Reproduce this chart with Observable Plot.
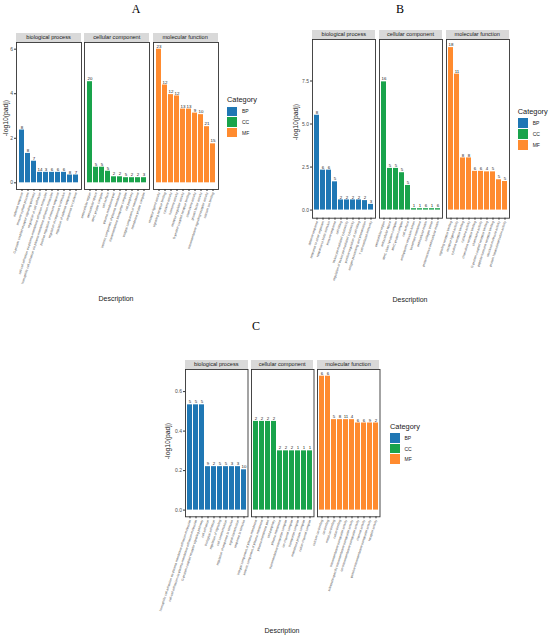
<!DOCTYPE html>
<html>
<head>
<meta charset="utf-8">
<script src="https://cdn.jsdelivr.net/npm/d3@7"></script>
<script src="https://cdn.jsdelivr.net/npm/@observablehq/plot@0.6"></script>
<style>
  body { margin: 0; background: white; }
  #root { position: relative; width: 550px; height: 637px; background: white; overflow: hidden;
          font-family: "Liberation Sans", Arial, sans-serif; }
  .abs { position: absolute; }
  .lbl { position: absolute; white-space: nowrap; line-height: 1; transform: translate(-50%, -50%); }
  .abs svg { overflow: visible; }
</style>
</head>
<body>
<div id="root"></div>
<script>
// ---------------- DATA ----------------
const categories = ["BP", "CC", "MF"];
const facetNames = ["biological process", "cellular component", "molecular function"];

// Panel A
const A_BP_terms = ["defense response", "immune system process",
  "G-protein coupled receptor signaling pathway",
  "regulation of cell adhesion", "cell-cell adhesion via plasma-membrane adhesion molecules",
  "homophilic cell adhesion via plasma membrane adhesion molecules",
  "positive regulation of immune response", "regulation of response to stimulus",
  "regulation of defense response", "response to cytokine"];
const A_BP_values = [2.37, 1.32, 0.97, 0.47, 0.47, 0.47, 0.47, 0.47, 0.35, 0.35];
const A_BP_counts = [8, 8, 7, 14, 3, 6, 6, 6, 8, 7];

const A_CC_terms = ["extracellular region", "extracellular space", "MHC protein complex", "cell surface",
  "plasma membrane part", "intrinsic component of plasma membrane", "transmembrane transporter complex",
  "cell periphery", "integral component of membrane", "membrane protein complex"];
const A_CC_values = [4.54, 0.70, 0.70, 0.52, 0.27, 0.27, 0.23, 0.23, 0.23, 0.23];
const A_CC_counts = [20, 5, 5, 5, 2, 2, 5, 2, 2, 3];

const A_MF_terms = ["receptor ligand activity", "signaling receptor binding", "cytokine activity",
  "hormone activity", "receptor regulator activity", "G-protein coupled receptor binding",
  "chemokine activity", "growth factor activity", "transmembrane signaling receptor activity",
  "calcium ion binding"];
const A_MF_values = [6.0, 4.39, 3.96, 3.90, 3.31, 3.31, 3.13, 3.06, 2.52, 1.75];
const A_MF_counts = [23, 12, 12, 12, 13, 13, 9, 10, 21, 15];

// Panel B
const B_BP_terms = ["defense response", "response to other organism", "response to biotic stimulus",
  "immune response", "cell killing", "leukocyte mediated cytotoxicity",
  "regulation of leukocyte mediated cytotoxicity", "positive regulation of cell killing",
  "antigen processing and presentation", "T cell mediated immunity"];
const B_BP_values = [5.51, 2.32, 2.32, 1.64, 0.59, 0.59, 0.59, 0.59, 0.55, 0.33];
const B_BP_counts = [8, 6, 6, 5, 2, 2, 2, 2, 2, 3];

const B_CC_terms = ["extracellular region", "extracellular space", "MHC class I protein complex",
  "MHC protein complex", "cell surface", "endoplasmic reticulum lumen", "basement membrane",
  "extracellular matrix", "collagen trimer", "proteinaceous extracellular matrix"];
const B_CC_values = [7.45, 2.42, 2.42, 2.17, 1.43, 0.08, 0.08, 0.08, 0.08, 0.08];
const B_CC_counts = [16, 5, 5, 5, 5, 1, 1, 6, 1, 6];

const B_MF_terms = ["signaling receptor binding", "receptor ligand activity", "cytokine receptor binding",
  "cytokine activity", "chemokine receptor binding", "chemokine activity",
  "G-protein coupled receptor binding", "peptide hormone receptor binding",
  "structural molecule activity", "protein heterodimerization activity"];
const B_MF_values = [9.44, 7.90, 3.03, 3.03, 2.25, 2.25, 2.22, 2.22, 1.76, 1.66];
const B_MF_counts = [18, 11, 8, 8, 6, 6, 4, 5, 5, 5];

// Panel C
const C_BP_terms = ["homophilic cell adhesion via plasma membrane adhesion molecules",
  "cell-cell adhesion via plasma-membrane adhesion molecules",
  "G-protein coupled receptor signaling pathway", "cell adhesion", "biological adhesion",
  "regulation of signaling", "cell communication", "regulation of response to stimulus",
  "signal transduction", "response to stimulus"];
const C_BP_values = [0.533, 0.533, 0.533, 0.22, 0.22, 0.22, 0.22, 0.22, 0.22, 0.204];
const C_BP_counts = [5, 5, 5, 9, 2, 5, 5, 3, 3, 10];

const C_CC_terms = ["integral component of plasma membrane", "intrinsic component of plasma membrane",
  "plasma membrane part", "cell periphery", "plasma membrane", "transmembrane transporter complex",
  "ion channel complex", "transporter complex", "membrane protein complex", "cation channel complex"];
const C_CC_values = [0.449, 0.449, 0.449, 0.449, 0.30, 0.30, 0.30, 0.30, 0.30, 0.30];
const C_CC_counts = [2, 2, 2, 2, 2, 2, 2, 1, 1, 1];

const C_MF_terms = ["calcium ion binding", "ion binding", "metal ion binding", "cation binding",
  "transmembrane transporter activity", "substrate-specific transmembrane transporter activity",
  "ion transmembrane transporter activity", "channel activity",
  "passive transmembrane transporter activity", "receptor activity"];
const C_MF_values = [0.678, 0.678, 0.458, 0.458, 0.458, 0.458, 0.441, 0.441, 0.441, 0.441];
const C_MF_counts = [6, 6, 5, 8, 11, 4, 6, 6, 9, 2];

const A_ticks = [0, 2, 4, 6];
const B_ticks = [0, 2.5, 5, 7.5];
const C_ticks = [0, 0.2, 0.4, 0.6];

// ---------------- STYLE / LAYOUT ----------------
const colors = {BP: "#1f77b4", CC: "#19a34b", MF: "#ff8b2f"};

const panels = [
  {letter: "A", letterPos: [136, 9], top: 42, h: 147, lefts: [16, 84.3, 152.6], w: 65,
   ticks: A_ticks, fmt: d3.format("d"),
   series: [[A_BP_terms, A_BP_values, A_BP_counts], [A_CC_terms, A_CC_values, A_CC_counts], [A_MF_terms, A_MF_values, A_MF_counts]],
   ytitle: [6, 118], desc: [116, 298], legend: {x: 227, titleY: 100, boxY: 106.7, step: 10.7, boxH: 9.4, boxW: 10}},
  {letter: "B", letterPos: [400, 9], top: 39, h: 178.7, lefts: [312.3, 379, 445.7], w: 63,
   ticks: B_ticks, fmt: d3.format(".1f"),
   series: [[B_BP_terms, B_BP_values, B_BP_counts], [B_CC_terms, B_CC_values, B_CC_counts], [B_MF_terms, B_MF_values, B_MF_counts]],
   ytitle: [295.5, 122], desc: [410, 299], legend: {x: 517.7, titleY: 111.7, boxY: 118.3, step: 10.8, boxH: 10, boxW: 10}},
  {letter: "C", letterPos: [256, 326], top: 369, h: 147.3, lefts: [185, 250.9, 316.8], w: 62.5,
   ticks: C_ticks, fmt: d3.format(".1f"),
   series: [[C_BP_terms, C_BP_values, C_BP_counts], [C_CC_terms, C_CC_values, C_CC_counts], [C_MF_terms, C_MF_values, C_MF_counts]],
   ytitle: [167.5, 441], desc: [282, 630], legend: {x: 390, titleY: 426.7, boxY: 433.3, step: 10.5, boxH: 9.4, boxW: 9.5}}
];

const root = document.getElementById("root");
const stripH = 9;
const ML = 26, MR = 4, MT = 8, MB = 130;

function addLabel(text, x, y, size, opts = {}) {
  const d = document.createElement("div");
  d.className = "lbl";
  d.textContent = text;
  d.style.left = x + "px";
  d.style.top = y + "px";
  d.style.fontSize = size + "px";
  d.style.color = opts.color || "#1a1a1a";
  if (opts.font) d.style.fontFamily = opts.font;
  if (opts.rotate) d.style.transform = `translate(-50%, -50%) rotate(${opts.rotate}deg)`;
  if (opts.anchorLeft) d.style.transform = "translate(0, -50%)";
  root.appendChild(d);
  return d;
}

function facetPlot(p, k, yMax) {
  const [terms, values, counts] = p.series[k];
  const cat = categories[k];
  const data = terms.map((t, i) => ({term: t, value: values[i], count: counts[i]}));
  const showY = k === 0;
  const marks = [
    Plot.barY(data, {x: "term", y: "value", fill: colors[cat]}),
    Plot.text(data, {x: "term", y: "value", text: d => String(d.count), dy: -2.8,
                     fontSize: 4.4, fill: "#1a1a1a"}),
    Plot.frame({stroke: "#333333", strokeWidth: 0.9}),
    Plot.axisX({tickSize: 2, tickPadding: 1, tickRotate: -72, fontSize: 3.2, fill: "#4d4d4d",
                stroke: "#333333", label: null})
  ];
  if (showY) marks.push(Plot.axisY({ticks: p.ticks, tickFormat: p.fmt, tickSize: 2, tickPadding: 1.5,
                                    fontSize: 5, fill: "#4d4d4d", stroke: "#333333", label: null}));
  const plot = Plot.plot({
    width: p.w + ML + MR,
    height: p.h + MT + MB,
    marginLeft: ML, marginRight: MR, marginTop: MT, marginBottom: MB,
    style: {background: "transparent", overflow: "visible", fontFamily: "Liberation Sans, Arial, sans-serif"},
    x: {type: "band", domain: terms, paddingInner: 0.1, paddingOuter: 0.15, label: null},
    y: {domain: [-0.05 * yMax, 1.05 * yMax], label: null, axis: showY ? undefined : null},
    marks
  });
  const wrap = document.createElement("div");
  wrap.className = "abs";
  wrap.style.left = (p.lefts[k] - ML) + "px";
  wrap.style.top = (p.top - MT) + "px";
  wrap.appendChild(plot);
  root.appendChild(wrap);

  // facet strip
  const strip = document.createElement("div");
  strip.className = "abs";
  Object.assign(strip.style, {
    left: p.lefts[k] + "px", top: (p.top - stripH) + "px", width: p.w + "px", height: stripH + "px",
    background: "#d9d9d9", color: "#1a1a1a", fontSize: "5.6px", lineHeight: stripH + "px",
    textAlign: "center", whiteSpace: "nowrap"
  });
  strip.textContent = facetNames[k];
  root.appendChild(strip);
}

for (const p of panels) {
  const yMax = d3.max(p.series.flatMap(s => s[1]));
  for (let k = 0; k < 3; k++) facetPlot(p, k, yMax);
  addLabel(p.letter, p.letterPos[0], p.letterPos[1], 12, {font: "Liberation Serif, Times New Roman, serif", color: "#000"});
  addLabel("-log10(padj)", p.ytitle[0], p.ytitle[1], 6.8, {rotate: -90});
  addLabel("Description", p.desc[0], p.desc[1], 7);
  // legend
  const L = p.legend;
  addLabel("Category", L.x, L.titleY, 7.4, {anchorLeft: true});
  categories.forEach((c, i) => {
    const b = document.createElement("div");
    b.className = "abs";
    Object.assign(b.style, {left: L.x + "px", top: (L.boxY + i * L.step) + "px",
      width: L.boxW + "px", height: L.boxH + "px", background: colors[c]});
    root.appendChild(b);
    addLabel(c, L.x + L.boxW + 5, L.boxY + i * L.step + L.boxH / 2, 5, {anchorLeft: true});
  });
}
</script>
</body>
</html>
